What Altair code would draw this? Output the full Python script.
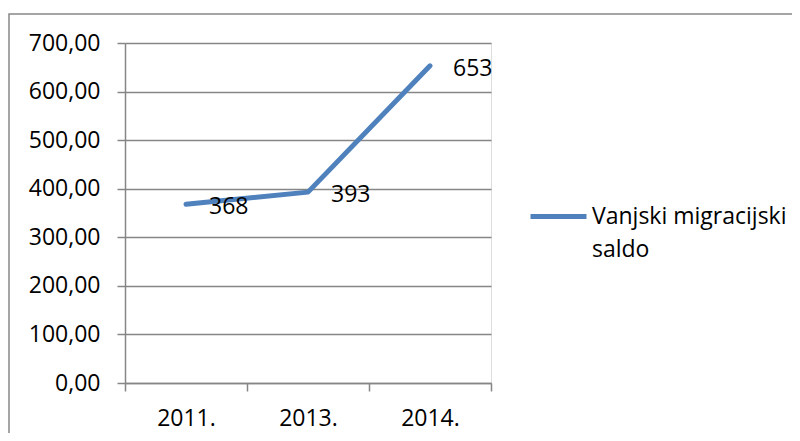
import altair as alt
import pandas as pd

years = ["2011.", "2013.", "2014."]
values = [368, 393, 653]
series_name = "Vanjski migracijski saldo"
y_ticks = [0, 100, 200, 300, 400, 500, 600, 700]

df = pd.DataFrame({"year": years, "value": values, "series": [series_name] * len(years)})

W, H = 366, 340
FONT = "Open Sans"
GRAY = "#868686"

x_enc = alt.X(
    "year:N",
    sort=years,
    scale=alt.Scale(paddingInner=0, paddingOuter=0),
    axis=alt.Axis(
        title=None, labelAngle=0, tickBand="extent", grid=False,
        domainColor=GRAY, tickColor=GRAY, domainWidth=1.5, tickWidth=1.5,
        tickSize=8, labelPadding=16, labelFont=FONT, labelFontSize=23,
        labelColor="#000000",
    ),
)
y_enc = alt.Y(
    "value:Q",
    scale=alt.Scale(domain=[0, 700], nice=False),
    axis=alt.Axis(
        title=None, values=y_ticks, grid=True, gridColor=GRAY, gridWidth=1.5,
        domainColor=GRAY, tickColor=GRAY, domainWidth=1.5, tickWidth=1.5,
        tickSize=8, labelPadding=17, labelFont=FONT, labelFontSize=23,
        labelColor="#000000",
        labelExpr="replace(format(datum.value, '.2f'), '.', ',')",
    ),
)

line = alt.Chart(df).mark_line(strokeWidth=5, strokeCap="round", strokeJoin="round").encode(
    x=x_enc,
    y=y_enc,
    color=alt.Color(
        "series:N",
        scale=alt.Scale(range=["#4F81BD"]),
        legend=alt.Legend(
            title=None, orient="none", legendX=403, legendY=143,
            symbolType="stroke", symbolSize=3136, symbolStrokeWidth=5,
            labelFont=FONT, labelFontSize=23, labelColor="#000000",
            labelOffset=3, labelLimit=400, padding=0,
            labelExpr="['Vanjski migracijski', 'saldo']",
        ),
    ),
)

labels = alt.Chart(df).mark_text(
    align="left", baseline="middle", dx=23, dy=3, font=FONT, fontSize=23, color="#000000"
).encode(
    x=alt.X("year:N", sort=years),
    y=alt.Y("value:Q"),
    text=alt.Text("value:Q"),
)

border = alt.Chart(pd.DataFrame({"a": [0]})).mark_rect(
    fillOpacity=0, stroke="#888888", strokeWidth=1.5
).encode(
    x=alt.value(-116), x2=alt.value(800), y=alt.value(-29), y2=alt.value(500)
)

chart = alt.layer(border, line, labels).properties(
    width=W, height=H,
    padding={"left": 117, "top": 35, "right": 301, "bottom": 50},
    autosize=alt.AutoSizeParams(type="none"),
).configure_view(stroke=None).configure(
    style={"guide-label": {"lineHeight": 33}}
)

chart.save("out.html", embed_options={"renderer": "svg", "actions": False})
